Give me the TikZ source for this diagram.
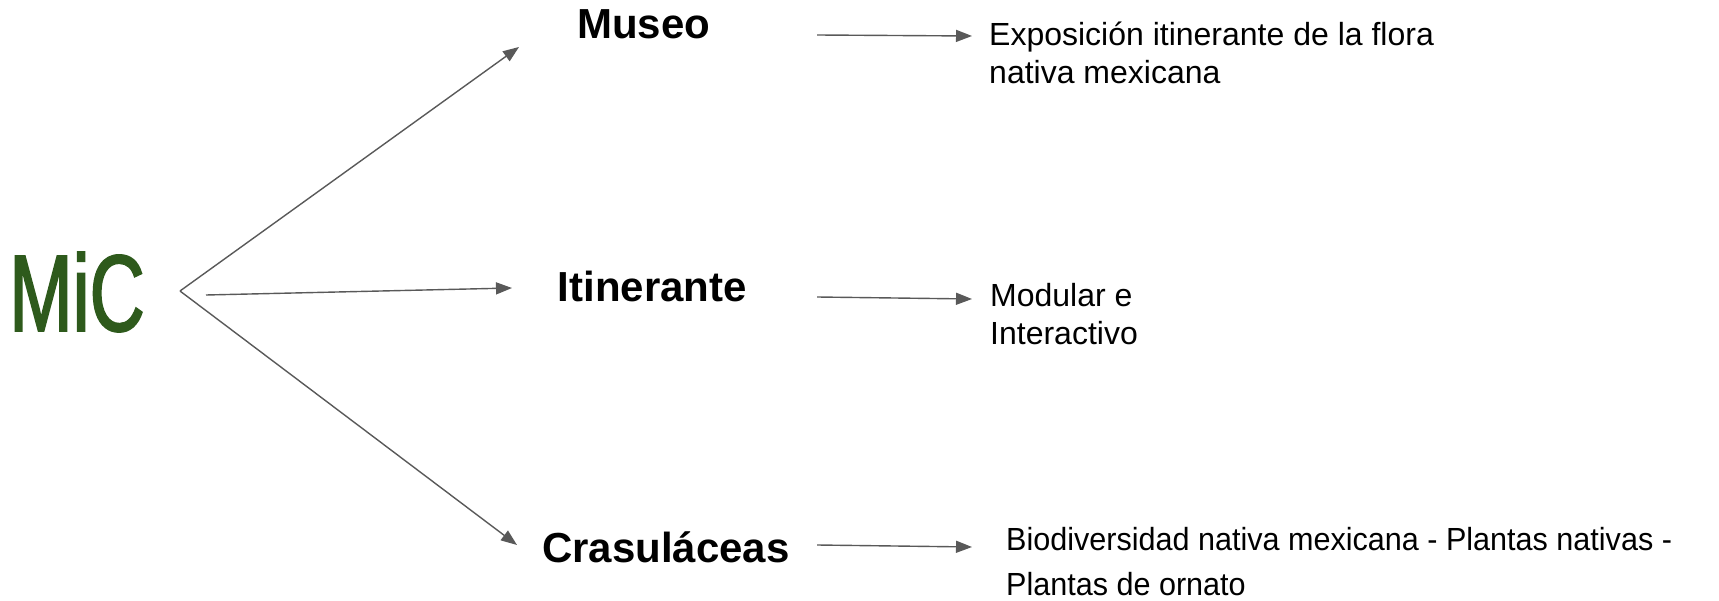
\documentclass[tikz,border=0pt]{standalone}
\usepackage{fontspec}
\setmainfont{Liberation Sans}
\newfontfamily\narrowfont[FakeStretch=0.955]{Liberation Sans}
\newfontfamily\micfont[FakeStretch=0.70,FakeBold=1.6]{Liberation Sans}
\usetikzlibrary{arrows.meta}
\definecolor{micgreen}{HTML}{2E5A1C}
\definecolor{arrowgray}{HTML}{595959}
\begin{document}
\begin{tikzpicture}[x=1pt,y=-1pt,
  conn/.style={draw=arrowgray,line width=1.4pt,-{Triangle[length=16pt,width=12pt]}},
  head/.style={anchor=base west,inner sep=0pt,font=\bfseries\fontsize{42}{48}\selectfont},
  desc/.style={anchor=base west,inner sep=0pt,align=left,font=\fontsize{32}{38}\selectfont},
  descn/.style={anchor=base west,inner sep=0pt,align=left,font=\narrowfont\fontsize{32}{45}\selectfont}]
\useasboundingbox (0,0) rectangle (1719,601);
\node[anchor=base west,inner sep=0pt,text=micgreen,font=\micfont\fontsize{109}{120}\selectfont] (mic) at (9,331) {MiC};
\coordinate (v) at (180,291);
\coordinate (ms) at (206,295);
\coordinate (tm) at (519,47);
\coordinate (ti) at (512,288);
\coordinate (tc) at (517,545);
\node[head] (museo) at (577,38.5) {Museo};
\node[head] (itin) at (557.5,302) {Itinerante};
\node[head] (cras) at (542,562) {Crasuláceas};
\coordinate (a1s) at (817,35);
\coordinate (a1e) at (972,36);
\coordinate (a2s) at (817,297);
\coordinate (a2e) at (972,299);
\coordinate (a3s) at (817,545);
\coordinate (a3e) at (972,547);
\node[desc] (expo) at (989,84) {Exposición itinerante de la flora\\nativa mexicana};
\node[desc] (modu) at (990,345) {Modular e\\Interactivo};
\node[descn] (bio) at (1006,595) {Biodiversidad nativa mexicana - Plantas nativas -\\Plantas de ornato};
\draw[conn] (v) -- (tm);
\draw[conn] (v) -- (tc);
\draw[conn] (ms) -- (ti);
\draw[conn] (a1s) -- (a1e);
\draw[conn] (a2s) -- (a2e);
\draw[conn] (a3s) -- (a3e);
\end{tikzpicture}
\end{document}
